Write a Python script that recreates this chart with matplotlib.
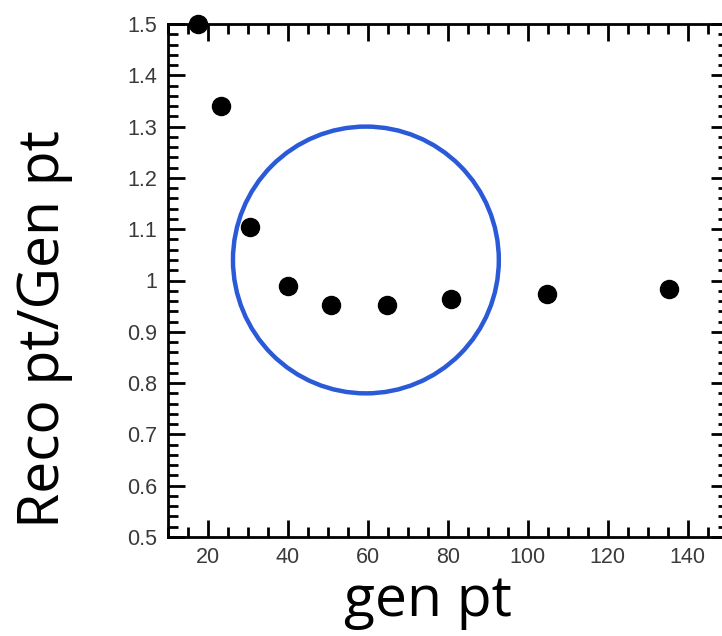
import matplotlib.pyplot as plt
from matplotlib.patches import Ellipse
from matplotlib.ticker import MultipleLocator

# Response points
gen_pt = [17.4, 23.2, 30.6, 40.0, 50.75, 64.75, 80.75, 104.75, 135.3]
ratio = [1.5, 1.340, 1.104, 0.989, 0.952, 0.952, 0.963, 0.974, 0.983]

# Highlight circle (data coords)
circle_center = (59.5, 1.04)
circle_w = 66.5
circle_h = 0.52

fig = plt.figure(figsize=(7.22, 6.36), dpi=100)
ax = fig.add_axes([168 / 722, 99 / 636, 559.7 / 722, 513 / 636])

ax.plot(gen_pt, ratio, 'o', color='black', markersize=13, clip_on=False, zorder=5)

ax.set_xlim(10, 150)
ax.set_ylim(0.5, 1.5)
ax.xaxis.set_major_locator(MultipleLocator(20))
ax.xaxis.set_minor_locator(MultipleLocator(5))
ax.yaxis.set_minor_locator(MultipleLocator(0.02))
ax.set_yticks([0.5, 0.6, 0.7, 0.8, 0.9, 1.0, 1.1, 1.2, 1.3, 1.4, 1.5])
ax.set_yticklabels(['0.5', '0.6', '0.7', '0.8', '0.9', '1', '1.1', '1.2', '1.3', '1.4', '1.5'])

ax.tick_params(which='both', direction='in', top=True, right=True, width=2, color='black',
               labelsize=15.5, labelcolor='#3a3a3a')
ax.tick_params(which='major', length=12)
ax.tick_params(which='minor', length=7)
ax.tick_params(axis='y', pad=8)
ax.tick_params(axis='x', pad=7)
for lab in ax.get_xticklabels() + ax.get_yticklabels():
    lab.set_fontfamily('Liberation Sans')
for s in ax.spines.values():
    s.set_linewidth(2)

ax.add_patch(Ellipse(circle_center, circle_w, circle_h, fill=False,
                     edgecolor='#2a5ad8', linewidth=3.2, clip_on=False, zorder=4))

fig.text(45 / 722, 1 - 329 / 636, 'Reco pt/Gen pt', rotation=90, ha='center', va='center',
         fontsize=41, family='Open Sans')
fig.text(428 / 722, 1 - 602 / 636, 'gen pt', ha='center', va='center',
         fontsize=41, family='Open Sans')

fig.savefig('out.png', dpi=100)
